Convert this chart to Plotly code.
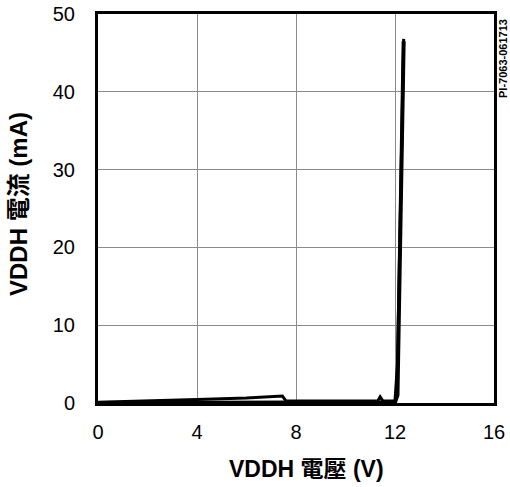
import plotly.graph_objects as go

# Upper branch (sweep with hump before 7.5 V and small bump near 11.4 V)
v_up = [0.0, 2.0, 4.0, 6.0, 7.3, 7.45, 7.6, 9.0, 11.3, 11.4, 11.5, 11.6, 12.0, 12.1, 12.2, 12.3, 12.35]
i_up = [0.1, 0.25, 0.45, 0.65, 0.8, 0.9, 0.25, 0.25, 0.25, 0.8, 0.3, 0.25, 0.3, 5.0, 20.0, 38.0, 46.8]
# Lower branch
v_dn = [0.0, 4.0, 8.0, 11.0, 12.0, 12.1, 12.2, 12.35]
i_dn = [0.0, 0.0, 0.05, 0.1, 0.1, 1.0, 20.0, 46.5]

x_ticks = [0, 4, 8, 12, 16]
y_ticks = [0, 10, 20, 30, 40, 50]

FONT = "Liberation Sans, Arial, Noto Sans CJK TC, sans-serif"

W, H = 510, 487
L, R, T, B = 98, 16, 14, 84
PW, PH = W - L - R, H - T - B
BASE = H - B  # page y of x-axis

fig = go.Figure()
fig.add_trace(go.Scatter(x=v_dn, y=i_dn, mode="lines",
                         line=dict(color="black", width=4), showlegend=False))
fig.add_trace(go.Scatter(x=v_up, y=i_up, mode="lines",
                         line=dict(color="black", width=3), showlegend=False))

fig.update_layout(
    width=W, height=H,
    margin=dict(l=L, r=R, t=T, b=B),
    paper_bgcolor="white", plot_bgcolor="white",
    font=dict(family=FONT, color="black", size=20),
    xaxis=dict(
        range=[0, 16], tickvals=x_ticks, ticktext=[str(t) for t in x_ticks],
        showgrid=True, gridcolor="#8a8a8a", gridwidth=1,
        showline=True, linecolor="black", linewidth=3, mirror=True,
        zeroline=False, ticks="", ticklabelstandoff=9, automargin=False,
        tickfont=dict(size=20),
    ),
    yaxis=dict(
        range=[0, 50], tickvals=y_ticks, ticktext=[str(t) for t in y_ticks],
        showgrid=True, gridcolor="#8a8a8a", gridwidth=1,
        showline=True, linecolor="black", linewidth=3, mirror=True,
        zeroline=False, ticks="", ticklabelstandoff=16, automargin=False,
        tickfont=dict(size=20),
    ),
    annotations=[
        dict(text="<b>VDDH 電壓 (V)</b>", xref="paper", yref="paper",
             x=(306 - L) / PW, y=0, yshift=-(469 - BASE),
             showarrow=False, xanchor="center", yanchor="middle",
             font=dict(size=23)),
        dict(text="<b>VDDH 電流 (mA)</b>", xref="paper", yref="paper",
             x=0, xshift=-(L - 18), y=(BASE - 204) / PH,
             showarrow=False, xanchor="center", yanchor="middle",
             textangle=-90, font=dict(size=24)),
        dict(text="<b>PI-7063-061713</b>", xref="paper", yref="paper",
             x=0, xshift=(503 - L), y=(BASE - 59) / PH,
             showarrow=False, xanchor="center", yanchor="middle",
             textangle=-90, font=dict(size=11)),
    ],
)

# remove the default 8px body margin so the figure sits at the window origin
fig.write_html("out.html", config={"displayModeBar": False},
               post_script="document.body.style.margin='0';")
